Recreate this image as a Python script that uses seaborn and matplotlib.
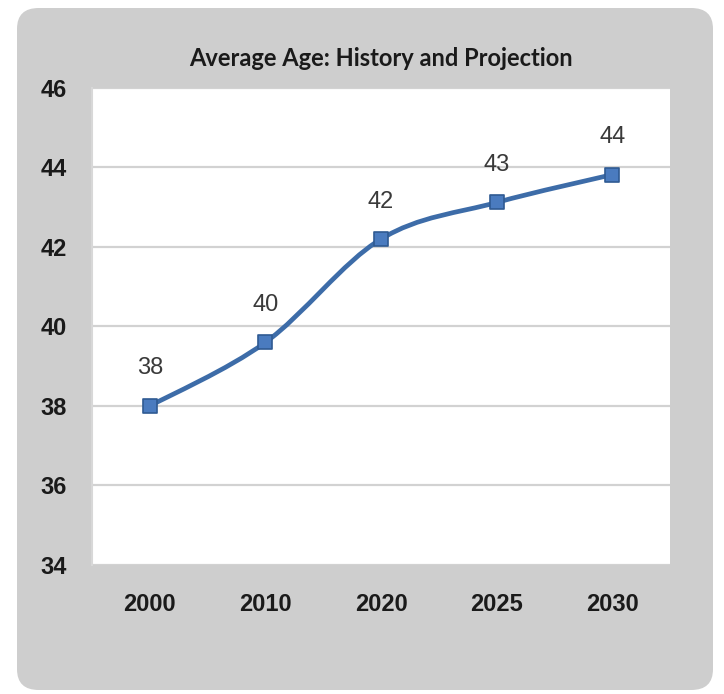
import numpy as np
import pandas as pd
import matplotlib
matplotlib.use('Agg')
import matplotlib.pyplot as plt
import seaborn as sns
from matplotlib.patches import FancyBboxPatch, PathPatch
from matplotlib.path import Path

# 数据
years = ['2000', '2010', '2020', '2025', '2030']
avg_age = [38.0, 39.6, 42.2, 43.12, 43.82]
labels = ['38', '40', '42', '43', '44']

sns.set_theme(style='white')
plt.rcParams['font.family'] = ['Liberation Sans', 'DejaVu Sans']

df = pd.DataFrame({'year': years, 'age': avg_age})
df['pos'] = np.arange(len(years))

fig = plt.figure(figsize=(7.24, 6.94), dpi=100)
fig.patch.set_facecolor('white')

# 灰色圆角背景
panel = FancyBboxPatch((17 / 724, 4 / 694), 696 / 724, 682 / 694,
                       boxstyle='round,pad=0,rounding_size=0.03',
                       transform=fig.transFigure, facecolor='#cecece',
                       edgecolor='none', zorder=-1)
fig.add_artist(panel)

ax = fig.add_axes([92 / 724, 129 / 694, 578 / 724, 477 / 694])
ax.set_zorder(2)
ax.set_facecolor('white')

# 平滑曲线 (Bezier, 类似 Excel 平滑线)
xs = df['pos'].to_numpy(dtype=float)
ys = df['age'].to_numpy(dtype=float)
n = len(xs)
verts = [(xs[0], ys[0])]
codes = [Path.MOVETO]
for i in range(n - 1):
    p0 = i - 1 if i > 0 else i
    p3 = i + 2 if i + 2 < n else i + 1
    c1 = (xs[i] + (xs[i + 1] - xs[p0]) / 6, ys[i] + (ys[i + 1] - ys[p0]) / 6)
    c2 = (xs[i + 1] - (xs[p3] - xs[i]) / 6, ys[i + 1] - (ys[p3] - ys[i]) / 6)
    verts += [c1, c2, (xs[i + 1], ys[i + 1])]
    codes += [Path.CURVE4] * 3
ax.add_patch(PathPatch(Path(verts, codes), facecolor='none',
                       edgecolor='#3d6ca8', linewidth=3.4, zorder=3,
                       capstyle='round', joinstyle='round'))

sns.scatterplot(data=df, x='pos', y='age', marker='s', s=110,
                color='#4a7bbf', edgecolor='#2f5a92', linewidth=1.2,
                zorder=4, ax=ax, legend=False)

for x, y, t in zip(df['pos'], df['age'], labels):
    ax.annotate(t, (x, y), xytext=(0, 27), textcoords='offset points',
                ha='center', va='center', fontsize=17, color='#3a3a3a')

ax.set_xlim(-0.5, len(years) - 0.5)
ax.set_ylim(34, 46)
ax.set_yticks(np.arange(34, 47, 2))
ax.set_xticks(df['pos'])
ax.set_xticklabels(years)
ax.yaxis.grid(True, color='#d2d2d2', linewidth=1.6)
ax.set_axisbelow(True)
for s in ['top', 'right', 'bottom']:
    ax.spines[s].set_visible(False)
ax.spines['left'].set_color('#d8d8d8')
ax.spines['left'].set_linewidth(1.5)
ax.tick_params(axis='both', length=0, labelsize=17)
ax.tick_params(axis='y', pad=18)
ax.tick_params(axis='x', pad=20)
for lab in ax.get_xticklabels() + ax.get_yticklabels():
    lab.set_fontweight('bold')
    lab.set_color('#1a1a1a')
ax.set_xlabel('')
ax.set_ylabel('')
ax.set_title('Average Age: History and Projection', fontsize=17,
             fontweight='bold', color='#1a1a1a', pad=16,
             family=['Lato', 'DejaVu Sans'])

fig.savefig('out.png', dpi=100, facecolor=fig.get_facecolor())
